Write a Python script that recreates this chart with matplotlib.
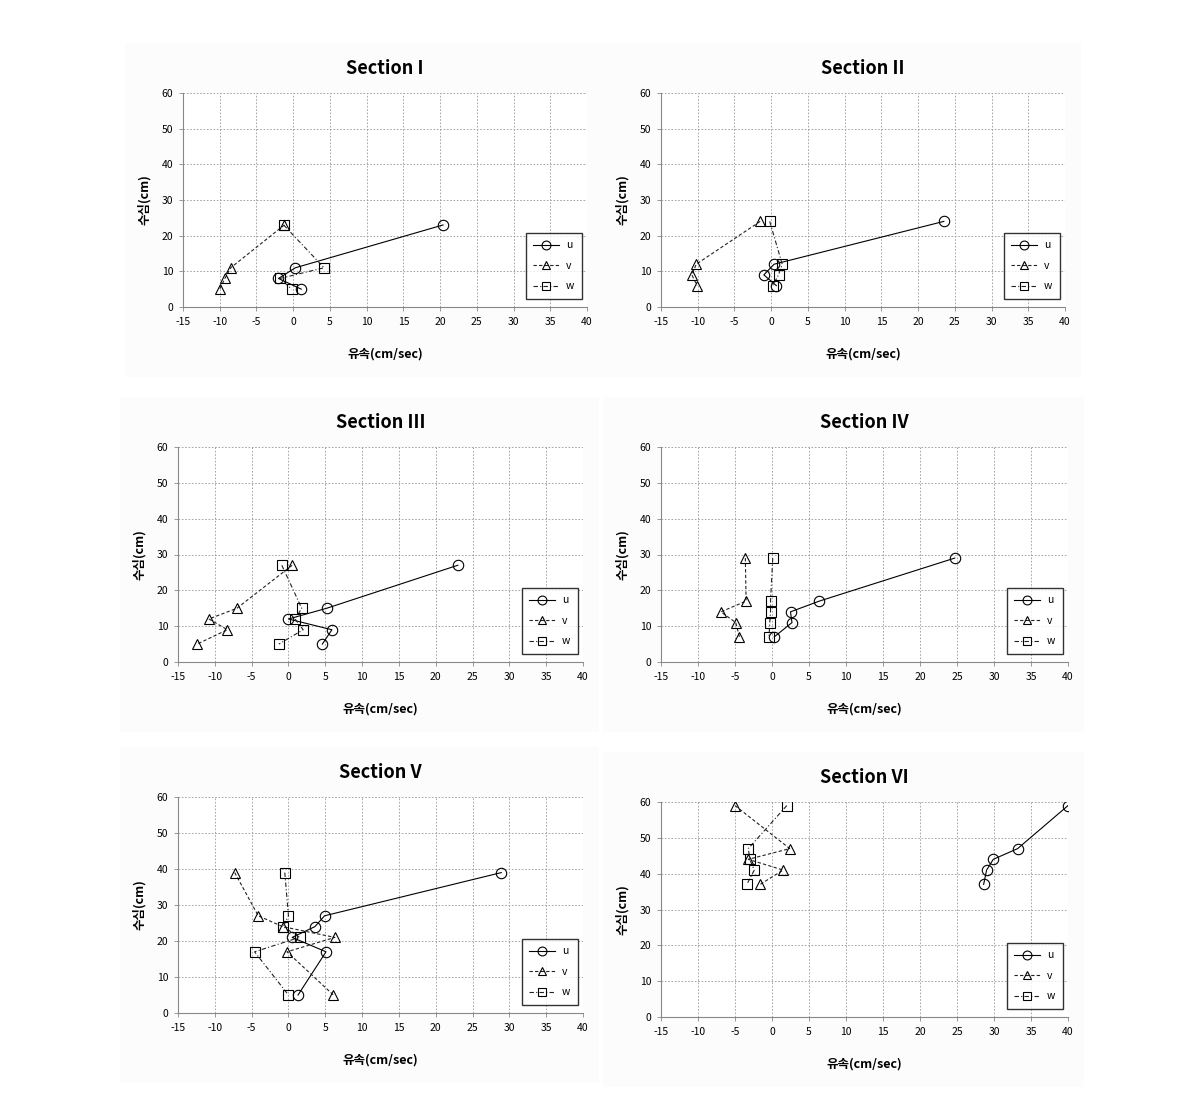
import matplotlib
matplotlib.use("Agg")
import matplotlib.pyplot as plt
from matplotlib.patches import Rectangle

plt.rcParams['font.family'] = ['Noto Sans CJK KR', 'DejaVu Sans']
plt.rcParams['axes.unicode_minus'] = False

# ======================================================================
# Data, depth in cm, velocity in cm/sec
# ======================================================================

titles = ["Section I", "Section II", "Section III", "Section IV", "Section V", "Section VI"]

s1_depth = [23, 11, 8, 5]
s1_u = [20.4, 0.3, -2.0, 1.1]
s1_v = [-1.2, -8.5, -9.3, -10.0]
s1_w = [-1.3, 4.2, -1.8, -0.2]

s2_depth = [24, 12, 9, 6]
s2_u = [23.5, 0.4, -1.0, 0.7]
s2_v = [-1.5, -10.2, -10.8, -10.1]
s2_w = [-0.2, 1.5, 1.0, 0.2]

s3_depth = [27, 15, 12, 9, 5]
s3_u = [23.0, 5.2, 0.0, 5.9, 4.6]
s3_v = [0.5, -7.0, -10.8, -8.3, -12.4]
s3_w = [-0.9, 1.8, 0.9, 2.0, -1.3]

s4_depth = [29, 17, 14, 11, 7]
s4_u = [24.7, 6.4, 2.5, 2.7, 0.3]
s4_v = [-3.6, -3.5, -6.9, -4.9, -4.4]
s4_w = [0.1, -0.2, -0.2, -0.3, -0.4]

s5_depth = [39, 27, 24, 21, 17, 5]
s5_u = [28.9, 4.9, 3.6, 0.5, 5.1, 1.3]
s5_v = [-7.3, -4.1, -0.8, 6.3, -0.2, 6.1]
s5_w = [-0.5, 0.0, -0.7, 1.5, -4.6, 0.0]

s6_depth = [59, 47, 44, 41, 37]
s6_u = [40.0, 33.2, 29.9, 29.0, 28.6]
s6_v = [-5.0, 2.4, -3.2, 1.5, -1.6]
s6_w = [2.0, -3.2, -3.0, -2.4, -3.4]

sections = [
    (s1_depth, s1_u, s1_v, s1_w),
    (s2_depth, s2_u, s2_v, s2_w),
    (s3_depth, s3_u, s3_v, s3_w),
    (s4_depth, s4_u, s4_v, s4_w),
    (s5_depth, s5_u, s5_v, s5_w),
    (s6_depth, s6_u, s6_v, s6_w),
]

x_ticks = list(range(-15, 41, 5))
y_ticks = list(range(0, 61, 10))

# axes boxes in pixels: left, top, right, bottom
W, H = 1188, 1095
boxes = [
    (183, 93, 587, 307),
    (661, 93, 1065, 307),
    (178, 447, 583, 662),
    (661, 447, 1068, 662),
    (178, 797, 583, 1013),
    (661, 802, 1068, 1017),
]

fig = plt.figure(figsize=(W / 100, H / 100), dpi=100)

for i, (title, (depth, u, v, w)) in enumerate(zip(titles, sections)):
    l, t, r, b = boxes[i]

    # very faint chart-area background like the Excel export
    fig.patches.append(Rectangle(((l - 58) / W, 1 - (b + 70) / H), (r - l + 74) / W, (b - t + 120) / H,
                                 transform=fig.transFigure, facecolor="#fcfcfc",
                                 edgecolor="none", zorder=-1))

    ax = fig.add_axes([l / W, 1 - b / H, (r - l) / W, (b - t) / H])
    ax.set_facecolor("white")

    ax.plot(u, depth, color="black", lw=0.8, ls="-", marker="o", ms=7.5,
            mfc="none", mec="black", mew=0.8, label="u")
    ax.plot(v, depth, color="#222222", lw=0.8, ls=(0, (3, 2)), marker="^", ms=7.5,
            mfc="none", mec="black", mew=0.8, label="v")
    ax.plot(w, depth, color="#222222", lw=0.8, ls=(0, (4, 2, 1, 2)), marker="s", ms=7.5,
            mfc="none", mec="black", mew=0.8, label="w")

    ax.set_xlim(-15, 40)
    ax.set_ylim(0, 60)
    ax.set_xticks(x_ticks)
    ax.set_yticks(y_ticks)
    ax.tick_params(labelsize=7.5, length=3, width=0.6, color="#888888", pad=4)
    ax.grid(True, color="#999999", ls=(0, (2, 2)), lw=0.6)
    for side in ["top", "right"]:
        ax.spines[side].set_visible(False)
    for side in ["left", "bottom"]:
        ax.spines[side].set_color("#888888")
        ax.spines[side].set_linewidth(0.8)

    ax.set_title(title, fontsize=13, fontweight="bold", pad=14)
    ax.set_xlabel("유속(cm/sec)", fontsize=9, fontweight="bold", labelpad=15)
    ax.set_ylabel("수심(cm)", fontsize=9, fontweight="bold", labelpad=8)

    leg = ax.legend(loc="lower right", bbox_to_anchor=(1.0, 0.015), fontsize=7.5,
                    frameon=True, fancybox=False, edgecolor="black", handlelength=2.5,
                    handletextpad=0.7, labelspacing=1.0, borderpad=0.7, markerscale=0.85)
    leg.get_frame().set_linewidth(1.0)

fig.savefig("out.png", dpi=100, facecolor="white")
